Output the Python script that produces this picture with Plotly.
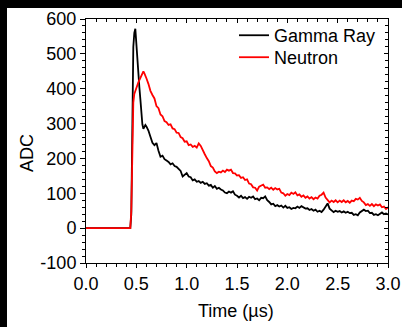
import plotly.graph_objects as go

# Time axis (microseconds)
time_us = [0.0, 0.44, 0.45, 0.46, 0.47, 0.48, 0.49, 0.50, 0.51, 0.52, 0.53, 0.54, 0.55,
           0.56, 0.57, 0.58, 0.59, 0.60,
           0.62, 0.64, 0.66, 0.68, 0.70, 0.72, 0.74, 0.76, 0.78, 0.80,
           0.82, 0.84, 0.86, 0.88, 0.90, 0.92, 0.94, 0.96, 0.98, 1.00,
           1.02, 1.04, 1.06, 1.08, 1.10, 1.12, 1.14, 1.16, 1.18, 1.20,
           1.22, 1.24, 1.26, 1.28, 1.30, 1.32, 1.34, 1.36, 1.38, 1.40,
           1.42, 1.44, 1.46, 1.48, 1.50, 1.52, 1.54, 1.56, 1.58, 1.60,
           1.62, 1.64, 1.66, 1.68, 1.70, 1.72, 1.74, 1.76, 1.78, 1.80,
           1.82, 1.84, 1.86, 1.88, 1.90, 1.92, 1.94, 1.96, 1.98, 2.00,
           2.02, 2.04, 2.06, 2.08, 2.10, 2.12, 2.14, 2.16, 2.18, 2.20,
           2.22, 2.24, 2.26, 2.28, 2.30, 2.32, 2.34, 2.36, 2.38, 2.40,
           2.42, 2.44, 2.46, 2.48, 2.50, 2.52, 2.54, 2.56, 2.58, 2.60,
           2.62, 2.64, 2.66, 2.68, 2.70, 2.72, 2.74, 2.76, 2.78, 2.80,
           2.82, 2.84, 2.86, 2.88, 2.90, 2.92, 2.94, 2.96, 2.98, 3.00]

gamma_adc = [0, 0, 40, 330, 520, 560, 572, 530, 480, 450, 405, 370, 325,
             298, 285, 290, 296, 292,
             280, 262, 245, 238, 244, 222, 205, 208, 198, 194,
             190, 183, 186, 178, 176, 170, 164, 148, 154, 158,
             148, 146, 137, 140, 133, 135, 130, 133, 127, 129,
             122, 124, 116, 121, 113, 116, 111, 108, 102, 100,
             105, 102, 106, 96, 93, 88, 93, 86, 89, 84,
             90, 87, 91, 83, 85, 80, 87, 86, 91, 80,
             75, 68, 70, 63, 66, 62, 65, 59, 64, 58,
             60, 55, 58, 57, 62, 58, 63, 59, 56, 57,
             52, 55, 50, 53, 47, 50, 46, 53, 62, 71,
             56, 50, 46, 50, 47, 49, 45, 48, 44, 47,
             43, 44, 38, 40, 37, 45, 48, 53, 49, 50,
             43, 44, 38, 40, 37, 42, 45, 40, 42, 39]

neutron_adc = [0, 0, 50, 230, 360, 385, 396, 403, 410, 418, 425, 430, 438,
               448, 450, 444, 438, 430,
               414, 394, 382, 372, 350, 344, 326, 321, 307, 304,
               296, 298, 286, 284, 274, 273, 261, 258, 248, 249,
               238, 240, 233, 236, 231, 243, 236, 222, 212, 201,
               192, 178, 174, 163, 158, 162, 160, 165, 161, 168,
               165, 168, 158, 157, 151, 152, 144, 146, 138, 140,
               128, 126, 117, 116, 108, 119, 122, 125, 116, 117,
               112, 116, 110, 115, 111, 113, 102, 100, 93, 98,
               95, 102, 98, 103, 94, 97, 90, 94, 87, 91,
               85, 89, 83, 88, 85, 93, 96, 102, 88, 80,
               74, 79, 75, 80, 74, 79, 75, 80, 74, 78,
               73, 79, 77, 84, 82, 87, 78, 74, 66, 69,
               64, 69, 63, 68, 65, 68, 60, 62, 55, 60]

x_ticks = [0.0, 0.5, 1.0, 1.5, 2.0, 2.5, 3.0]
x_tick_labels = ["0.0", "0.5", "1.0", "1.5", "2.0", "2.5", "3.0"]
y_ticks = [-100, 0, 100, 200, 300, 400, 500, 600]
y_tick_labels = ["-100", "0", "100", "200", "300", "400", "500", "600"]

FONT = "Liberation Sans, Arial, Helvetica, sans-serif"

fig = go.Figure()
fig.add_trace(go.Scatter(x=time_us, y=gamma_adc, mode="lines", name="Gamma Ray",
                         line=dict(color="#000000", width=1.8), legend="legend"))
fig.add_trace(go.Scatter(x=time_us, y=neutron_adc, mode="lines", name="Neutron",
                         line=dict(color="#ff0000", width=1.8), legend="legend2"))
fig.add_trace(go.Scatter(x=[], y=[], xaxis="x2", yaxis="y2", showlegend=False,
                         hoverinfo="skip"))

axis_common = dict(showgrid=False, zeroline=False, showline=True, linecolor="black",
                   linewidth=1, tickcolor="black", tickwidth=1, automargin=False,
                   tickfont=dict(family=FONT, size=18, color="black"))

legend_common = dict(xanchor="left", yanchor="top", bgcolor="rgba(0,0,0,0)",
                     font=dict(family=FONT, size=18, color="black"))

fig.update_layout(
    width=402, height=327,
    margin=dict(l=86, r=14, t=19, b=64),
    paper_bgcolor="black",
    plot_bgcolor="white",
    showlegend=True,
    legend=dict(x=0.49, y=1.008, **legend_common),
    legend2=dict(x=0.49, y=0.918, **legend_common),
    xaxis=dict(range=[0, 3], tickmode="array", tickvals=x_ticks, ticktext=x_tick_labels,
               ticks="outside", ticklen=4,
               minor=dict(dtick=0.1, ticks="outside", ticklen=3, tickcolor="black"),
               **axis_common),
    yaxis=dict(range=[-100, 600], tickmode="array", tickvals=y_ticks, ticktext=y_tick_labels,
               ticks="outside", ticklen=5,
               minor=dict(dtick=20, ticks="outside", ticklen=3, tickcolor="black"),
               **axis_common),
    xaxis2=dict(range=[0, 3], overlaying="x", side="top", anchor="y",
                tickmode="array", tickvals=x_ticks, showticklabels=False,
                ticks="inside", ticklen=4,
                minor=dict(dtick=0.1, ticks="inside", ticklen=3, tickcolor="black"),
                **axis_common),
    yaxis2=dict(range=[-100, 600], overlaying="y", side="right", anchor="x",
                tickmode="array", tickvals=y_ticks, showticklabels=False,
                ticks="inside", ticklen=4,
                minor=dict(dtick=20, ticks="inside", ticklen=3, tickcolor="black"),
                **axis_common),
    shapes=[dict(type="rect", xref="paper", yref="paper", x0=-0.2616, x1=1.05,
                 y0=-0.30, y1=1.045, fillcolor="white", line=dict(width=0), layer="below")],
    annotations=[
        dict(text="ADC", xref="paper", yref="paper", x=-0.195, y=0.451, showarrow=False,
             textangle=-90, font=dict(family=FONT, size=18, color="black"),
             xanchor="center", yanchor="middle"),
        dict(text="Time (\u00b5s)", xref="paper", yref="paper", x=0.497, y=-0.197,
             showarrow=False, font=dict(family=FONT, size=18, color="black"),
             xanchor="center", yanchor="middle"),
    ],
)

fig.write_html("out.html")
